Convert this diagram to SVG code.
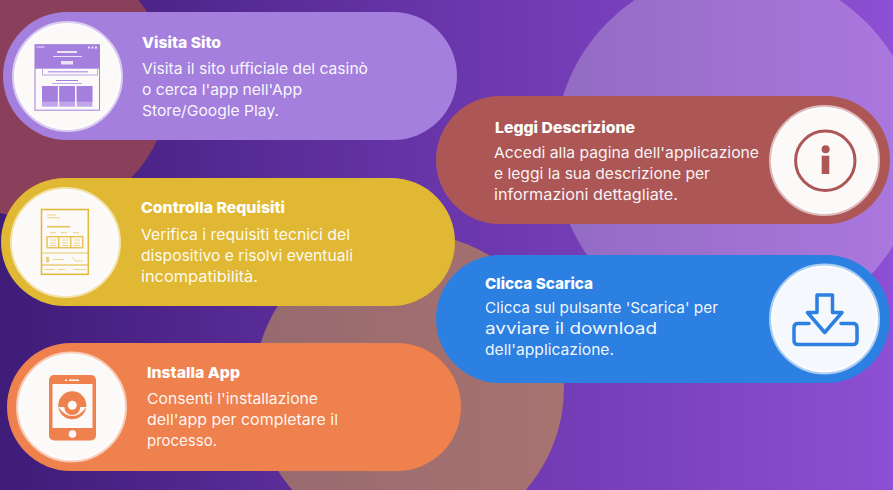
<svg xmlns="http://www.w3.org/2000/svg" width="893" height="490" viewBox="0 0 893 490">
<defs>
<linearGradient id="bg" x1="0" y1="0" x2="1" y2="0"><stop offset="0" stop-color="#3e1c78"/><stop offset="0.5" stop-color="#6a36ab"/><stop offset="1" stop-color="#8d4fd3"/></linearGradient>
<linearGradient id="lav" gradientUnits="userSpaceOnUse" x1="555" y1="0" x2="893" y2="0"><stop offset="0" stop-color="#936bc2"/><stop offset="1" stop-color="#aa77de"/></linearGradient>
<linearGradient id="mauve" gradientUnits="userSpaceOnUse" x1="255" y1="0" x2="565" y2="0"><stop offset="0" stop-color="#966a6f"/><stop offset="1" stop-color="#a87270"/></linearGradient>
</defs>
<style>
.t{font-family:"Inter","Liberation Sans",sans-serif;font-size:15px;font-weight:800;fill:#fff}
.b{font-family:"Inter","Liberation Sans",sans-serif;font-size:15px;font-weight:400;fill:#fff;fill-opacity:.95}
.disc{stroke-width:4;stroke-opacity:.6;stroke:#fff;fill:#fcf9f9}
.ln{fill:none;stroke-width:1.5}
</style>
<g id="background">
<rect width="893" height="490" fill="url(#bg)"/>
<circle cx="36" cy="85" r="133" fill="#8a3f5b"/>
<circle cx="737" cy="151" r="182.5" fill="url(#lav)"/>
<circle cx="409" cy="388" r="155" fill="url(#mauve)"/>
</g>
<g id="connectors"></g>

<g id="visita-sito">
<rect x="3" y="12" width="454" height="128" rx="64" fill="#a47fdd"/>
<circle class="disc" cx="67.5" cy="76.5" r="53.5"/>
<rect x="35" y="44.7" width="64.5" height="24" fill="#a47fdd"/>
<g fill="#c0a5ea">
<rect x="42" y="86" width="15.7" height="20.7"/><rect x="59.3" y="86" width="15.7" height="20.7"/><rect x="76.7" y="86" width="15.7" height="20.7"/>
</g>
<g fill="#a47fdd">
<rect x="42" y="86" width="15.7" height="15.7"/><rect x="59.3" y="86" width="15.7" height="15.7"/><rect x="76.7" y="86" width="15.7" height="15.7"/>
</g>
<rect x="35" y="44.7" width="64.5" height="65.5" fill="none" stroke="#a47fdd" stroke-width="1"/>
<rect x="42.5" y="68.5" width="55" height="6.5" fill="#fcf9f9" stroke="#c0a5ea" stroke-width="1"/>
<g fill="#ece3f9">
<rect x="57" y="51" width="20" height="2"/><rect x="53" y="56" width="29" height="1"/><rect x="61" y="61" width="12" height="3.5"/>
<rect x="88" y="46.5" width="2" height="2"/><rect x="91.5" y="46.5" width="2" height="2"/><rect x="95" y="46.5" width="2" height="2"/><rect x="36.5" y="46.5" width="8" height="1"/>
</g>
<rect x="48" y="71" width="40" height="1.5" fill="#c0a5ea"/>
<rect x="56" y="80" width="22" height="1" fill="#a47fdd"/><rect x="52" y="83" width="30" height="1" fill="#c0a5ea"/>
<text class="t" x="142" y="48" textLength="79" lengthAdjust="spacingAndGlyphs">Visita Sito</text>
<text class="b" x="142" y="74" textLength="226" lengthAdjust="spacingAndGlyphs">Visita il sito ufficiale del casinò</text>
<text class="b" x="142" y="95" textLength="160" lengthAdjust="spacingAndGlyphs">o cerca l'app nell'App</text>
<text class="b" x="142" y="116" textLength="137" lengthAdjust="spacingAndGlyphs">Store/Google Play.</text>
</g>

<g id="controlla-requisiti">
<rect x="1" y="178" width="454" height="128" rx="64" fill="#e1b833"/>
<circle class="disc" cx="65.5" cy="242.5" r="53.5"/>
<g stroke="#e1b833">
<rect class="ln" x="41.5" y="209.5" width="46.8" height="64.8"/>
<rect class="ln" x="47" y="236.7" width="35.7" height="11" stroke-opacity=".8"/>
<path class="ln" d="M58.7 236.7V247.7M70.7 236.7V247.7" stroke-opacity=".8"/>
<path d="M41.5 253H88.3" stroke-opacity=".5" stroke-width="1.5" fill="none"/>
<path d="M41.5 265H88.3" stroke-width="1" fill="none"/>
<path d="M47 226.7H70" stroke-width="1.5" fill="none" stroke-opacity=".85"/>
<path d="M47 215H56M47 217.8H60M50 232.7H56M61 232.7H67M73 232.7H79M50 240H56M50 243H56M50 245.5H56M62 240H68M62 243H68M62 245.5H68M74 240H80M74 243H80M74 245.5H80M53 259.5H64M75 261H83M72 257l3 3.5M44 269.5H55M58 269.5H65M73 269.5H86" fill="none" stroke-width="1" stroke-opacity=".6"/>
</g>
<text x="47.7" y="262" font-family="Inter,sans-serif" font-size="6" fill="#e1b833" font-weight="700" text-anchor="middle">$</text>
<text class="t" x="141" y="213" textLength="144" lengthAdjust="spacingAndGlyphs">Controlla Requisiti</text>
<text class="b" x="141" y="240" textLength="209" lengthAdjust="spacingAndGlyphs">Verifica i requisiti tecnici del</text>
<text class="b" x="141" y="261" textLength="212" lengthAdjust="spacingAndGlyphs">dispositivo e risolvi eventuali</text>
<text class="b" x="141" y="282" textLength="117" lengthAdjust="spacingAndGlyphs">incompatibilità.</text>
</g>

<g id="installa-app">
<rect x="7" y="343" width="454" height="128" rx="64" fill="#ef814e"/>
<circle class="disc" cx="71.5" cy="407" r="53.5"/>
<rect x="49" y="375" width="47" height="65.5" rx="5" fill="#ef814e"/>
<rect x="52.5" y="384" width="40" height="44" fill="#fcf9f9"/>
<circle cx="72.5" cy="434" r="3.8" fill="#fcf9f9"/>
<rect x="65" y="379.5" width="2" height="1.5" fill="#fcf9f9"/><rect x="69" y="379.5" width="10" height="1.5" fill="#fcf9f9"/>
<circle cx="72.3" cy="405.3" r="14" fill="#ef814e"/>
<path d="M58.3 407H64.3A8 8 0 0 0 80.3 407H86.3Q80 416 72.3 416T58.3 407Z" fill="#fcf9f9"/>
<circle cx="72.3" cy="405.3" r="4.5" fill="#fcf9f9"/>
<text class="t" x="147" y="378" textLength="93" lengthAdjust="spacingAndGlyphs">Installa App</text>
<text class="b" x="147" y="404" textLength="171" lengthAdjust="spacingAndGlyphs">Consenti l'installazione</text>
<text class="b" x="147" y="425" textLength="191" lengthAdjust="spacingAndGlyphs">dell'app per completare il</text>
<text class="b" x="147" y="446" textLength="70" lengthAdjust="spacingAndGlyphs">processo.</text>
</g>

<g id="leggi-descrizione">
<rect x="436" y="96" width="454" height="128" rx="64" fill="#ad5656"/>
<circle class="disc" cx="824.5" cy="160.5" r="53.5"/>
<circle cx="825.3" cy="160.7" r="29.7" fill="none" stroke="#ad5656" stroke-width="3"/>
<circle cx="825.6" cy="149.3" r="4" fill="#ad5656"/>
<rect x="821.7" y="155.7" width="7.6" height="18.3" fill="#ad5656"/>
<text class="t" x="495" y="133" textLength="140" lengthAdjust="spacingAndGlyphs">Leggi Descrizione</text>
<text class="b" x="494" y="158" textLength="265" lengthAdjust="spacingAndGlyphs">Accedi alla pagina dell'applicazione</text>
<text class="b" x="494" y="179" textLength="216" lengthAdjust="spacingAndGlyphs">e leggi la sua descrizione per</text>
<text class="b" x="494" y="200" textLength="184" lengthAdjust="spacingAndGlyphs">informazioni dettagliate.</text>
</g>

<g id="clicca-scarica">
<rect x="436" y="255" width="454" height="128" rx="64" fill="#2c80e2"/>
<circle class="disc" cx="824.5" cy="319" r="53.5" style="fill:#f5f9fe"/>
<path d="M809 323.5H798Q794 323.5 794 327.5V340.5Q794 344.5 798 344.5H853Q857 344.5 857 340.5V327.5Q857 323.5 853 323.5H841" fill="none" stroke="#2c80e2" stroke-width="3.5" stroke-linecap="round"/>
<path d="M817 295H832.5V312.5H842L824.7 332.5 807.5 312.5H817Z" fill="none" stroke="#2c80e2" stroke-width="3.5" stroke-linejoin="round"/>
<text class="t" x="485" y="289" textLength="108" lengthAdjust="spacingAndGlyphs">Clicca Scarica</text>
<text class="b" x="485" y="313" textLength="233" lengthAdjust="spacingAndGlyphs">Clicca sul pulsante 'Scarica' per</text>
<text class="b" x="485" y="334" textLength="172" lengthAdjust="spacingAndGlyphs" style="font-size:16.5px">avviare il download</text>
<text class="b" x="485" y="355" textLength="129" lengthAdjust="spacingAndGlyphs">dell'applicazione.</text>
</g>
</svg>
